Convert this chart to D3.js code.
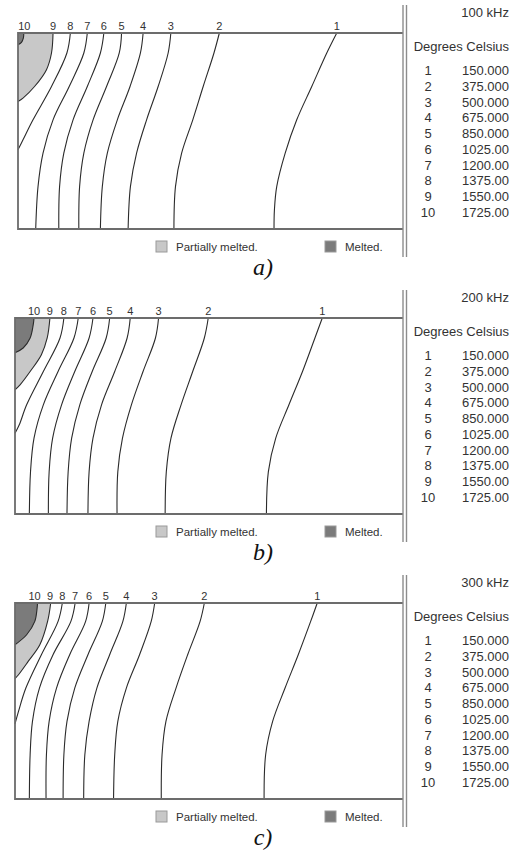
<!DOCTYPE html>
<html>
<head>
<meta charset="utf-8">
<script src="https://cdn.jsdelivr.net/npm/d3@7"></script>
<style>
  html, body { margin: 0; padding: 0; background: #fff; }
  svg { display: block; }
</style>
</head>
<body>
<div id="chart"></div>
<script>
// ---------------- DATA ----------------
const frequencies = ["100 kHz", "200 kHz", "300 kHz"];
const captions = ["a)", "b)", "c)"];
const levelNumbers = [1, 2, 3, 4, 5, 6, 7, 8, 9, 10];
const levelTemps = ["150.000", "375.000", "500.000", "675.000", "850.000",
                    "1025.00", "1200.00", "1375.00", "1550.00", "1725.00"];
const legendItems = ["Partially melted.", "Melted."];
const partialLevel = 9;   // boundary of partially melted zone
const meltedLevel = 10;   // boundary of melted zone

// contour traces: [width %, depth %], levels 1..10
const contours100kHz = [
  [[82.8,0],[80.2,10.2],[76.3,27.3],[72.4,44.3],[69.4,61.3],[67.2,78.4],[66.6,90.3],[66.5,100]],
  [[52.3,0],[50.9,10.2],[48.1,27.3],[45.4,44.3],[42.5,61.3],[40.9,78.4],[40.5,100]],
  [[39.7,0],[39.0,10.2],[36.4,27.3],[33.4,44.3],[30.8,61.3],[29.2,78.4],[28.6,100]],
  [[32.5,0],[31.8,10.2],[29.1,27.3],[25.8,44.3],[23.2,61.3],[21.9,78.4],[21.4,100]],
  [[26.9,0],[26.3,10.2],[23.0,27.3],[19.5,44.3],[17.1,61.3],[16.0,78.4],[15.8,100]],
  [[22.3,0],[21.4,10.2],[18.0,27.3],[14.3,44.3],[11.9,61.3],[10.8,78.4],[10.6,100]],
  [[18.0,0],[17.1,10.2],[13.3,27.3],[9.1,44.3],[6.5,61.3],[5.2,78.4],[4.6,100]],
  [[13.6,0],[12.7,10.2],[8.7,27.3],[3.9,44.3],[1.3,54.5],[0,59.6]],
  [[9.1,0],[8.7,10.2],[7.4,18.7],[4.3,27.3],[1.3,33.2],[0,34.9]],
  [[1.5,0],[1.4,2.5],[0.9,4.8],[0,6.0]]
];
const contours200kHz = [
  [[79.2,0],[77.3,10.2],[74.1,27.3],[70.6,44.3],[67.2,61.3],[65.3,78.4],[64.8,100]],
  [[49.8,0],[48.8,10.2],[45.8,27.3],[42.8,44.3],[40.2,61.3],[39.0,78.4],[38.7,100]],
  [[37.0,0],[36.2,10.2],[33.0,27.3],[30.0,44.3],[27.7,61.3],[26.5,78.4],[26.3,100]],
  [[29.7,0],[28.9,10.2],[25.7,27.3],[22.3,44.3],[20.1,61.3],[19.1,78.4],[18.8,100]],
  [[24.4,0],[23.5,10.2],[19.9,27.3],[16.7,44.3],[14.6,61.3],[13.7,78.4],[13.4,100]],
  [[20.1,0],[19.1,10.2],[15.4,27.3],[12.0,44.3],[9.7,61.3],[8.8,78.4],[8.6,100]],
  [[16.3,0],[15.2,10.2],[11.1,27.3],[7.3,44.3],[4.9,61.3],[4.0,78.4],[3.7,100]],
  [[12.6,0],[11.6,10.2],[7.3,27.3],[3.0,44.3],[1.1,54.5],[0,58.8]],
  [[9.0,0],[8.3,10.2],[6.8,18.7],[3.9,27.3],[1.3,34.1],[0,36.6]],
  [[4.9,0],[4.7,3.4],[3.9,10.2],[2.1,15.3],[0,17.7]]
];
const contours300kHz = [
  [[77.9,0],[76.2,9.4],[73.0,26.4],[69.6,43.4],[66.4,60.4],[64.6,77.4],[64.2,100]],
  [[48.8,0],[47.7,9.4],[44.5,26.4],[41.5,43.4],[38.9,60.4],[37.9,77.4],[37.7,100]],
  [[36.0,0],[35.1,9.4],[32.1,26.4],[28.7,43.4],[26.5,60.4],[25.7,77.4],[25.4,100]],
  [[28.7,0],[27.8,9.4],[24.4,26.4],[21.1,43.4],[19.1,60.4],[18.0,77.4],[17.7,100]],
  [[23.4,0],[22.5,9.4],[18.8,26.4],[15.4,43.4],[13.4,60.4],[12.6,77.4],[12.4,100]],
  [[19.1,0],[18.2,9.4],[14.1,26.4],[10.7,43.4],[8.8,60.4],[8.1,77.4],[8.0,100]],
  [[15.5,0],[14.4,9.4],[9.8,26.4],[6.3,43.4],[4.5,60.4],[3.9,77.4],[3.7,100]],
  [[12.2,0],[11.1,9.4],[6.8,26.4],[2.8,43.4],[0.9,55.3],[0,61.7]],
  [[9.2,0],[8.4,9.4],[6.4,21.3],[3.4,29.8],[0.9,36.6],[0,38.6]],
  [[5.8,0],[5.7,2.6],[5.1,9.4],[3.0,16.2],[0,21.3]]
];
const panelContours = [contours100kHz, contours200kHz, contours300kHz];

// ---------------- LAYOUT ----------------
const W = 523, H = 857;
const panelLayout = [
  { left: 18, top: 33 },
  { left: 15, top: 318 },
  { left: 15, top: 603 }
];
const plotRight = 403, plotH = 196;
const colors = {
  partial: "#c8c8c8", melted: "#7b7b7b", line: "#2b2b2b",
  box: "#6c6c6c", divider: "#8c8c8c", text: "#333"
};

const svg = d3.select("#chart").append("svg")
  .attr("width", W).attr("height", H)
  .style("font-family", "'Liberation Sans', Arial, sans-serif");

panelContours.forEach((contours, p) => {
  const L = panelLayout[p];
  const x = d3.scaleLinear().domain([0, 100]).range([L.left, plotRight]);
  const y = d3.scaleLinear().domain([0, 100]).range([L.top, L.top + plotH]);
  const g = svg.append("g");
  const line = d3.line().x(d => x(d[0])).y(d => y(d[1])).curve(d3.curveCatmullRom.alpha(0.5));

  // filled zones
  const zone = (pts, fill) => g.append("path")
    .attr("d", line(pts) + "L" + x(0) + "," + y(0) + "Z")
    .attr("fill", fill).attr("stroke", "none");
  zone(contours[partialLevel - 1], colors.partial);
  zone(contours[meltedLevel - 1], colors.melted);

  // contour lines
  g.selectAll("path.contour").data(contours).join("path")
    .attr("class", "contour")
    .attr("d", d => line(d))
    .attr("fill", "none")
    .attr("stroke", colors.line)
    .attr("stroke-width", 1.1);

  // contour labels at top, resolving overlaps from level 1 leftwards
  const labelX = [];
  const charW = 6.3;
  for (let i = 0; i < contours.length; i++) {
    let cx = x(contours[i][0][0]);
    const w = String(levelNumbers[i]).length * charW;
    if (i > 0) {
      const pw = String(levelNumbers[i - 1]).length * charW;
      cx = Math.min(cx, labelX[i - 1] - (w + pw) / 2 - 6);
    }
    cx = Math.max(cx, L.left + w / 2);
    labelX.push(cx);
  }
  g.selectAll("text.clabel").data(levelNumbers).join("text")
    .attr("class", "clabel")
    .attr("x", (d, i) => labelX[i])
    .attr("y", L.top - 3.5)
    .attr("text-anchor", "middle")
    .attr("font-size", 11)
    .attr("fill", colors.text)
    .text(d => d);

  // plot box
  g.append("path")
    .attr("d", `M${plotRight},${L.top}H${L.left}V${L.top + plotH}H${plotRight}`)
    .attr("fill", "none").attr("stroke", colors.box).attr("stroke-width", 1.8);

  // double divider
  [plotRight, plotRight + 3.5].forEach(dx => {
    g.append("line")
      .attr("x1", dx).attr("x2", dx)
      .attr("y1", L.top - 28).attr("y2", L.top + 224)
      .attr("stroke", colors.divider).attr("stroke-width", 1.4);
  });

  // right legend
  const rx = 509;
  g.append("text").attr("x", rx).attr("y", L.top - 15.7)
    .attr("text-anchor", "end").attr("font-size", 13).attr("fill", colors.text)
    .text(frequencies[p]);
  g.append("text").attr("x", rx).attr("y", L.top + 17.5)
    .attr("text-anchor", "end").attr("font-size", 13).attr("fill", colors.text)
    .text("Degrees Celsius");
  const rowY = d3.scaleLinear().domain([1, 10]).range([L.top + 42, L.top + 184]);
  g.selectAll("text.num").data(levelNumbers).join("text")
    .attr("class", "num")
    .attr("x", 428).attr("y", d => rowY(d))
    .attr("text-anchor", "middle").attr("font-size", 13).attr("fill", colors.text)
    .text(d => d);
  g.selectAll("text.temp").data(levelTemps).join("text")
    .attr("class", "temp")
    .attr("x", rx).attr("y", (d, i) => rowY(levelNumbers[i]))
    .attr("text-anchor", "end").attr("font-size", 13).attr("fill", colors.text)
    .text(d => d);

  // bottom legend
  const legX = [156, 325];
  const legFill = [colors.partial, colors.melted];
  legendItems.forEach((t, i) => {
    g.append("rect")
      .attr("x", legX[i]).attr("y", L.top + 208)
      .attr("width", 11).attr("height", 11)
      .attr("fill", legFill[i]).attr("stroke", "#9a9a9a").attr("stroke-width", 1);
    g.append("text")
      .attr("x", legX[i] + 20).attr("y", L.top + 217.5)
      .attr("font-size", 11.5).attr("fill", colors.text)
      .text(t);
  });

  // caption
  g.append("text")
    .attr("x", 263).attr("y", L.top + 242)
    .attr("text-anchor", "middle")
    .attr("font-family", "'Liberation Serif', 'Times New Roman', serif")
    .attr("font-style", "italic")
    .attr("font-size", 24)
    .attr("fill", "#111")
    .text(captions[p]);
});
</script>
</body>
</html>
